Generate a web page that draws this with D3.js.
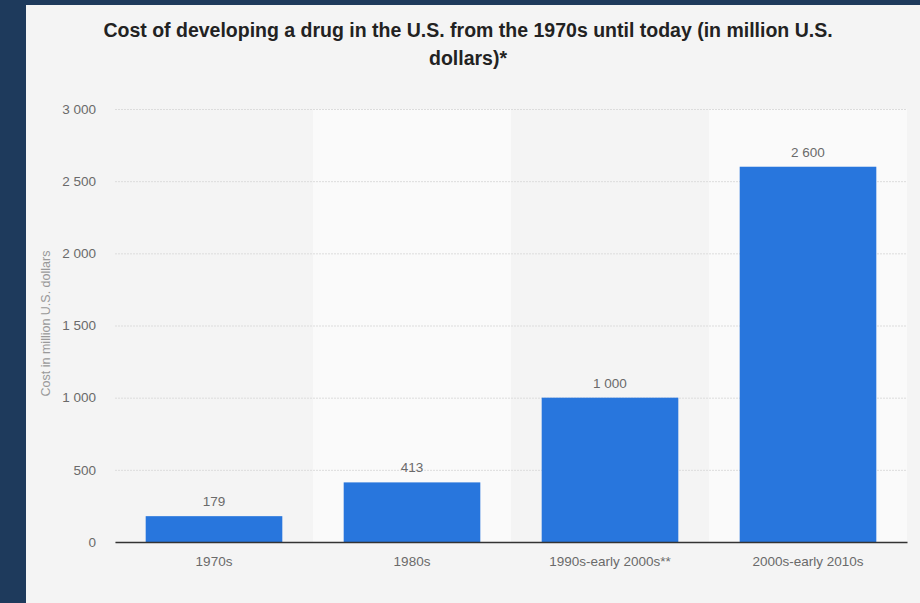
<!DOCTYPE html>
<html>
<head>
<meta charset="utf-8">
<script src="https://cdn.jsdelivr.net/npm/d3@7"></script>
<style>
  body { margin: 0; background: #1e3a5c; }
  svg { display: block; font-family: "Liberation Sans", Arial, sans-serif; }
</style>
</head>
<body>
<div class="chart"></div>
<script>
const categories = ["1970s", "1980s", "1990s-early 2000s**", "2000s-early 2010s"];
const costs = [179, 413, 1000, 2600];
const yTicks = [0, 500, 1000, 1500, 2000, 2500, 3000];
const titleLines = [
  "Cost of developing a drug in the U.S. from the 1970s until today (in million U.S.",
  "dollars)*"
];

const W = 920, H = 603;
const margin = { top: 109, right: 13, bottom: 61, left: 115 };
const width = W - margin.left - margin.right;
const height = H - margin.top - margin.bottom;

const fmt = d3.formatLocale({ decimal: ".", thousands: "\u2009", grouping: [3], currency: ["", ""] }).format(",");
const fmtSp = v => fmt(v).replace("\u2009", " ");

const root = d3.select('.chart')
  .append('svg')
  .attr('width', W)
  .attr('height', H);

// light panel over navy background
root.append('rect')
  .attr('x', 26).attr('y', 5)
  .attr('width', W - 26).attr('height', H - 5)
  .attr('fill', '#f4f4f4');

root.append('g')
  .selectAll('text')
  .data(titleLines)
  .enter()
  .append('text')
  .attr('x', 468)
  .attr('y', (d, i) => 37 + i * 28)
  .attr('text-anchor', 'middle')
  .attr('font-size', 19.5)
  .attr('font-weight', 'bold')
  .attr('fill', '#222')
  .text(d => d);

const svg = root.append('g')
  .attr('transform', `translate(${margin.left}, ${margin.top})`);

const xScale = d3.scaleBand()
  .domain(categories)
  .range([0, width])
  .paddingInner(0.31)
  .paddingOuter(0.155);

const yScale = d3.scaleLinear()
  .domain([0, 3000])
  .range([height, 0]);

// alternating column shading
svg.selectAll('rect.band')
  .data(categories.filter((d, i) => i % 2 === 1))
  .enter()
  .append('rect')
  .attr('class', 'band')
  .attr('x', d => xScale(d) - xScale.step() * xScale.paddingInner() / 2)
  .attr('y', 0)
  .attr('width', xScale.step())
  .attr('height', height)
  .attr('fill', '#fafafa');

// gridlines
const yAxis = d3.axisLeft(yScale)
  .tickValues(yTicks)
  .tickSize(-width)
  .tickPadding(19)
  .tickFormat(fmtSp);

svg.append('g')
  .call(yAxis)
  .call(g => g.select('.domain').remove())
  .call(g => g.selectAll('.tick line')
    .attr('stroke', '#dcdcdc')
    .attr('stroke-dasharray', '2,1'))
  .call(g => g.selectAll('.tick text')
    .attr('fill', '#6a6a6a')
    .attr('font-size', 13.5)
    .attr('font-family', '"Liberation Sans", Arial, sans-serif'));

svg.selectAll('rect.bar')
  .data(costs)
  .enter()
  .append('rect')
  .attr('class', 'bar')
  .attr('x', (d, i) => xScale(categories[i]))
  .attr('y', d => yScale(d))
  .attr('width', xScale.bandwidth())
  .attr('height', d => height - yScale(d))
  .attr('fill', '#2876dd');

svg.selectAll('text.val')
  .data(costs)
  .enter()
  .append('text')
  .attr('class', 'val')
  .attr('x', (d, i) => xScale(categories[i]) + xScale.bandwidth() / 2)
  .attr('y', d => yScale(d) - 10)
  .attr('text-anchor', 'middle')
  .attr('font-size', 13.5)
  .attr('fill', '#6a6a6a')
  .text(fmtSp);

const xAxis = d3.axisBottom(xScale).tickSize(0).tickPadding(14);

svg.append('g')
  .attr('transform', `translate(0, ${height})`)
  .call(xAxis)
  .call(g => g.select('.domain').attr('stroke', '#333').attr('stroke-width', 1.5))
  .call(g => g.selectAll('.tick text')
    .attr('fill', '#6a6a6a')
    .attr('font-size', 13.5)
    .attr('font-family', '"Liberation Sans", Arial, sans-serif'));

// y axis title
root.append('text')
  .attr('transform', `translate(50, ${margin.top + height / 2 - 2}) rotate(-90)`)
  .attr('text-anchor', 'middle')
  .attr('font-size', 12.5)
  .attr('fill', '#999')
  .text('Cost in million U.S. dollars');
</script>
</body>
</html>
